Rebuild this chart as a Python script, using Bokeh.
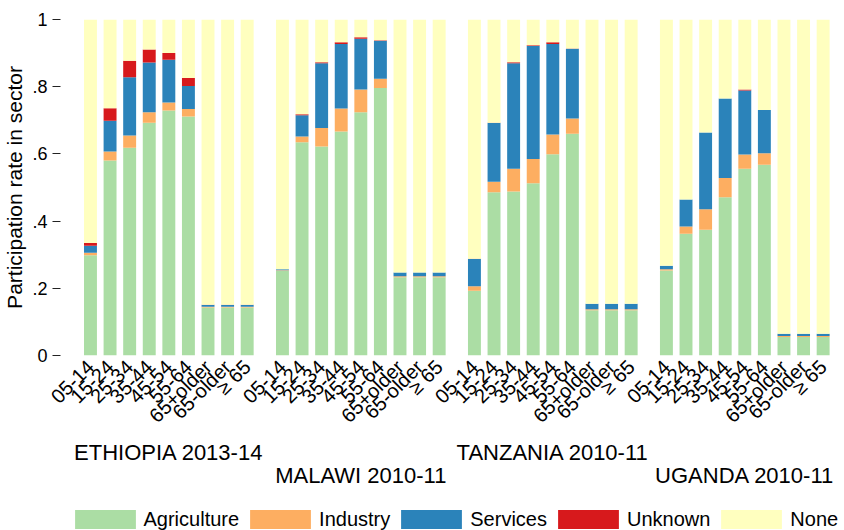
from math import pi

from bokeh.plotting import figure
from bokeh.layouts import column
from bokeh.models import (ColumnDataSource, FixedTicker, LinearAxis, Legend,
                          LegendItem, Range1d)
from bokeh.embed import file_html
from bokeh.resources import INLINE

# ---- data -------------------------------------------------------------
countries = ["ETHIOPIA 2013-14", "MALAWI 2010-11", "TANZANIA 2010-11", "UGANDA 2010-11"]
age_groups = ["05-14", "15-24", "25-34", "35-44", "45-54", "55-64",
              "65+older", "65-older", "\u2265 65"]
sectors = ["Agriculture", "Industry", "Services", "Unknown", "None"]
colors = ["#abdda4", "#fdae61", "#2b83ba", "#d7191c", "#ffffbf"]

# participation shares, one row of nine age groups per country
agriculture = [0.298, 0.580, 0.618, 0.693, 0.729, 0.711, 0.143, 0.143, 0.143,
               0.252, 0.635, 0.622, 0.667, 0.724, 0.796, 0.233, 0.233, 0.233,
               0.193, 0.486, 0.488, 0.513, 0.599, 0.660, 0.135, 0.135, 0.135,
               0.253, 0.362, 0.374, 0.471, 0.556, 0.568, 0.055, 0.055, 0.055]
industry = [0.008, 0.027, 0.037, 0.031, 0.024, 0.023, 0.002, 0.002, 0.002,
            0.002, 0.017, 0.055, 0.068, 0.068, 0.028, 0.003, 0.003, 0.003,
            0.013, 0.031, 0.068, 0.072, 0.059, 0.045, 0.003, 0.003, 0.003,
            0.004, 0.022, 0.061, 0.057, 0.042, 0.034, 0.003, 0.003, 0.003]
services = [0.021, 0.092, 0.173, 0.148, 0.127, 0.068, 0.005, 0.005, 0.005,
            0.003, 0.063, 0.193, 0.192, 0.151, 0.113, 0.011, 0.011, 0.011,
            0.081, 0.175, 0.314, 0.336, 0.269, 0.208, 0.016, 0.016, 0.016,
            0.010, 0.080, 0.229, 0.237, 0.191, 0.129, 0.007, 0.007, 0.007]
unknown = [0.008, 0.037, 0.049, 0.039, 0.020, 0.024, 0.001, 0.001, 0.001,
           0.000, 0.003, 0.003, 0.005, 0.004, 0.001, 0.000, 0.000, 0.000,
           0.001, 0.001, 0.003, 0.002, 0.005, 0.001, 0.000, 0.000, 0.000,
           0.000, 0.000, 0.000, 0.000, 0.003, 0.000, 0.000, 0.000, 0.000]
# people in no sector make up the rest of each age group
none = [round(1 - a - b - c - d, 3)
        for a, b, c, d in zip(agriculture, industry, services, unknown)]

# ---- positions: nine bars per country, a wider gap between countries ----
GROUP_STEP = len(age_groups) - 1 + 1.8
xs, tick_labels = [], {}
for g, _ in enumerate(countries):
    for i, age in enumerate(age_groups):
        x = round(g * GROUP_STEP + i, 2)
        xs.append(x)
        tick_labels[x] = age
centers = [round(g * GROUP_STEP + (len(age_groups) - 1) / 2, 2)
           for g in range(len(countries))]

source = ColumnDataSource(dict(x=xs, Agriculture=agriculture, Industry=industry,
                               Services=services, Unknown=unknown, None_=none))

FONT = "Liberation Sans"

p = figure(width=844, height=500, output_backend="svg", toolbar_location=None,
           x_range=Range1d(-1.53, 38.49), y_range=Range1d(0, 1),
           min_border_left=58, min_border_right=0, min_border_top=19,
           min_border_bottom=145)
p.outline_line_color = None
p.xgrid.visible = False
p.ygrid.visible = False
p.background_fill_color = "white"
p.border_fill_color = "white"

renderers = p.vbar_stack(["Agriculture", "Industry", "Services", "Unknown", "None_"],
                         x="x", width=0.66, color=colors, line_color=None,
                         source=source)

# y axis: ticks only, Stata-like labels without leading zero
yax = p.yaxis[0]
yax.ticker = FixedTicker(ticks=[0, 0.2, 0.4, 0.6, 0.8, 1])
yax.major_label_overrides = {0: "0", 0.2: ".2", 0.4: ".4", 0.6: ".6", 0.8: ".8", 1: "1"}
yax.axis_line_color = None
yax.major_tick_in = 0
yax.major_tick_out = 8
yax.major_tick_line_color = "#222222"
yax.minor_tick_line_color = None
yax.major_label_standoff = 5
yax.major_label_text_font = FONT
yax.major_label_text_font_size = "18px"
yax.major_label_text_color = "black"
yax.axis_label = "Participation rate in sector"
yax.axis_label_text_font = FONT
yax.axis_label_text_font_size = "21px"
yax.axis_label_text_font_style = "normal"
yax.axis_label_text_color = "black"
yax.axis_label_standoff = 3

# x axis: rotated age-group labels
xax = p.xaxis[0]
xax.ticker = FixedTicker(ticks=xs)
xax.major_label_overrides = tick_labels
xax.major_label_orientation = pi / 4
xax.axis_line_color = None
xax.major_tick_line_color = None
xax.minor_tick_line_color = None
xax.major_label_standoff = 2
xax.major_label_text_font = FONT
xax.major_label_text_font_size = "20px"
xax.major_label_text_color = "black"

# country names on two staggered rows
def country_axis(idx, standoff):
    ax = LinearAxis(ticker=FixedTicker(ticks=[centers[k] for k in idx]),
                    major_label_overrides={centers[k]: countries[k] for k in idx})
    ax.axis_line_color = None
    ax.major_tick_line_color = None
    ax.minor_tick_line_color = None
    ax.major_label_standoff = standoff
    ax.major_label_text_font = FONT
    ax.major_label_text_font_size = "22px"
    ax.major_label_text_color = "black"
    return ax

p.add_layout(country_axis([0, 2], -4), "below")
p.add_layout(country_axis([1, 3], -11), "below")

# ---- legend strip underneath the chart ---------------------------------
lf = figure(width=844, height=30, output_backend="svg", toolbar_location=None,
            x_range=Range1d(0, 1), y_range=Range1d(0, 1),
            x_axis_location=None, y_axis_location=None,
            min_border=0, outline_line_color=None)
lf.grid.visible = False
keys = [lf.vbar(x=[0], top=[0], width=0, color=c, line_color=None) for c in colors]

legend = Legend(items=[LegendItem(label=s, renderers=[r]) for s, r in zip(sectors, keys)],
                orientation="horizontal", location=(6.5, -1),
                glyph_width=76, glyph_height=24, label_standoff=1, spacing=3,
                padding=0, margin=0, border_line_color=None,
                background_fill_alpha=0,
                label_text_font=FONT, label_text_font_size="20px",
                label_text_color="black")
lf.add_layout(legend, "center")

open("out.html", "w").write(file_html(column(p, lf, spacing=0), INLINE))
